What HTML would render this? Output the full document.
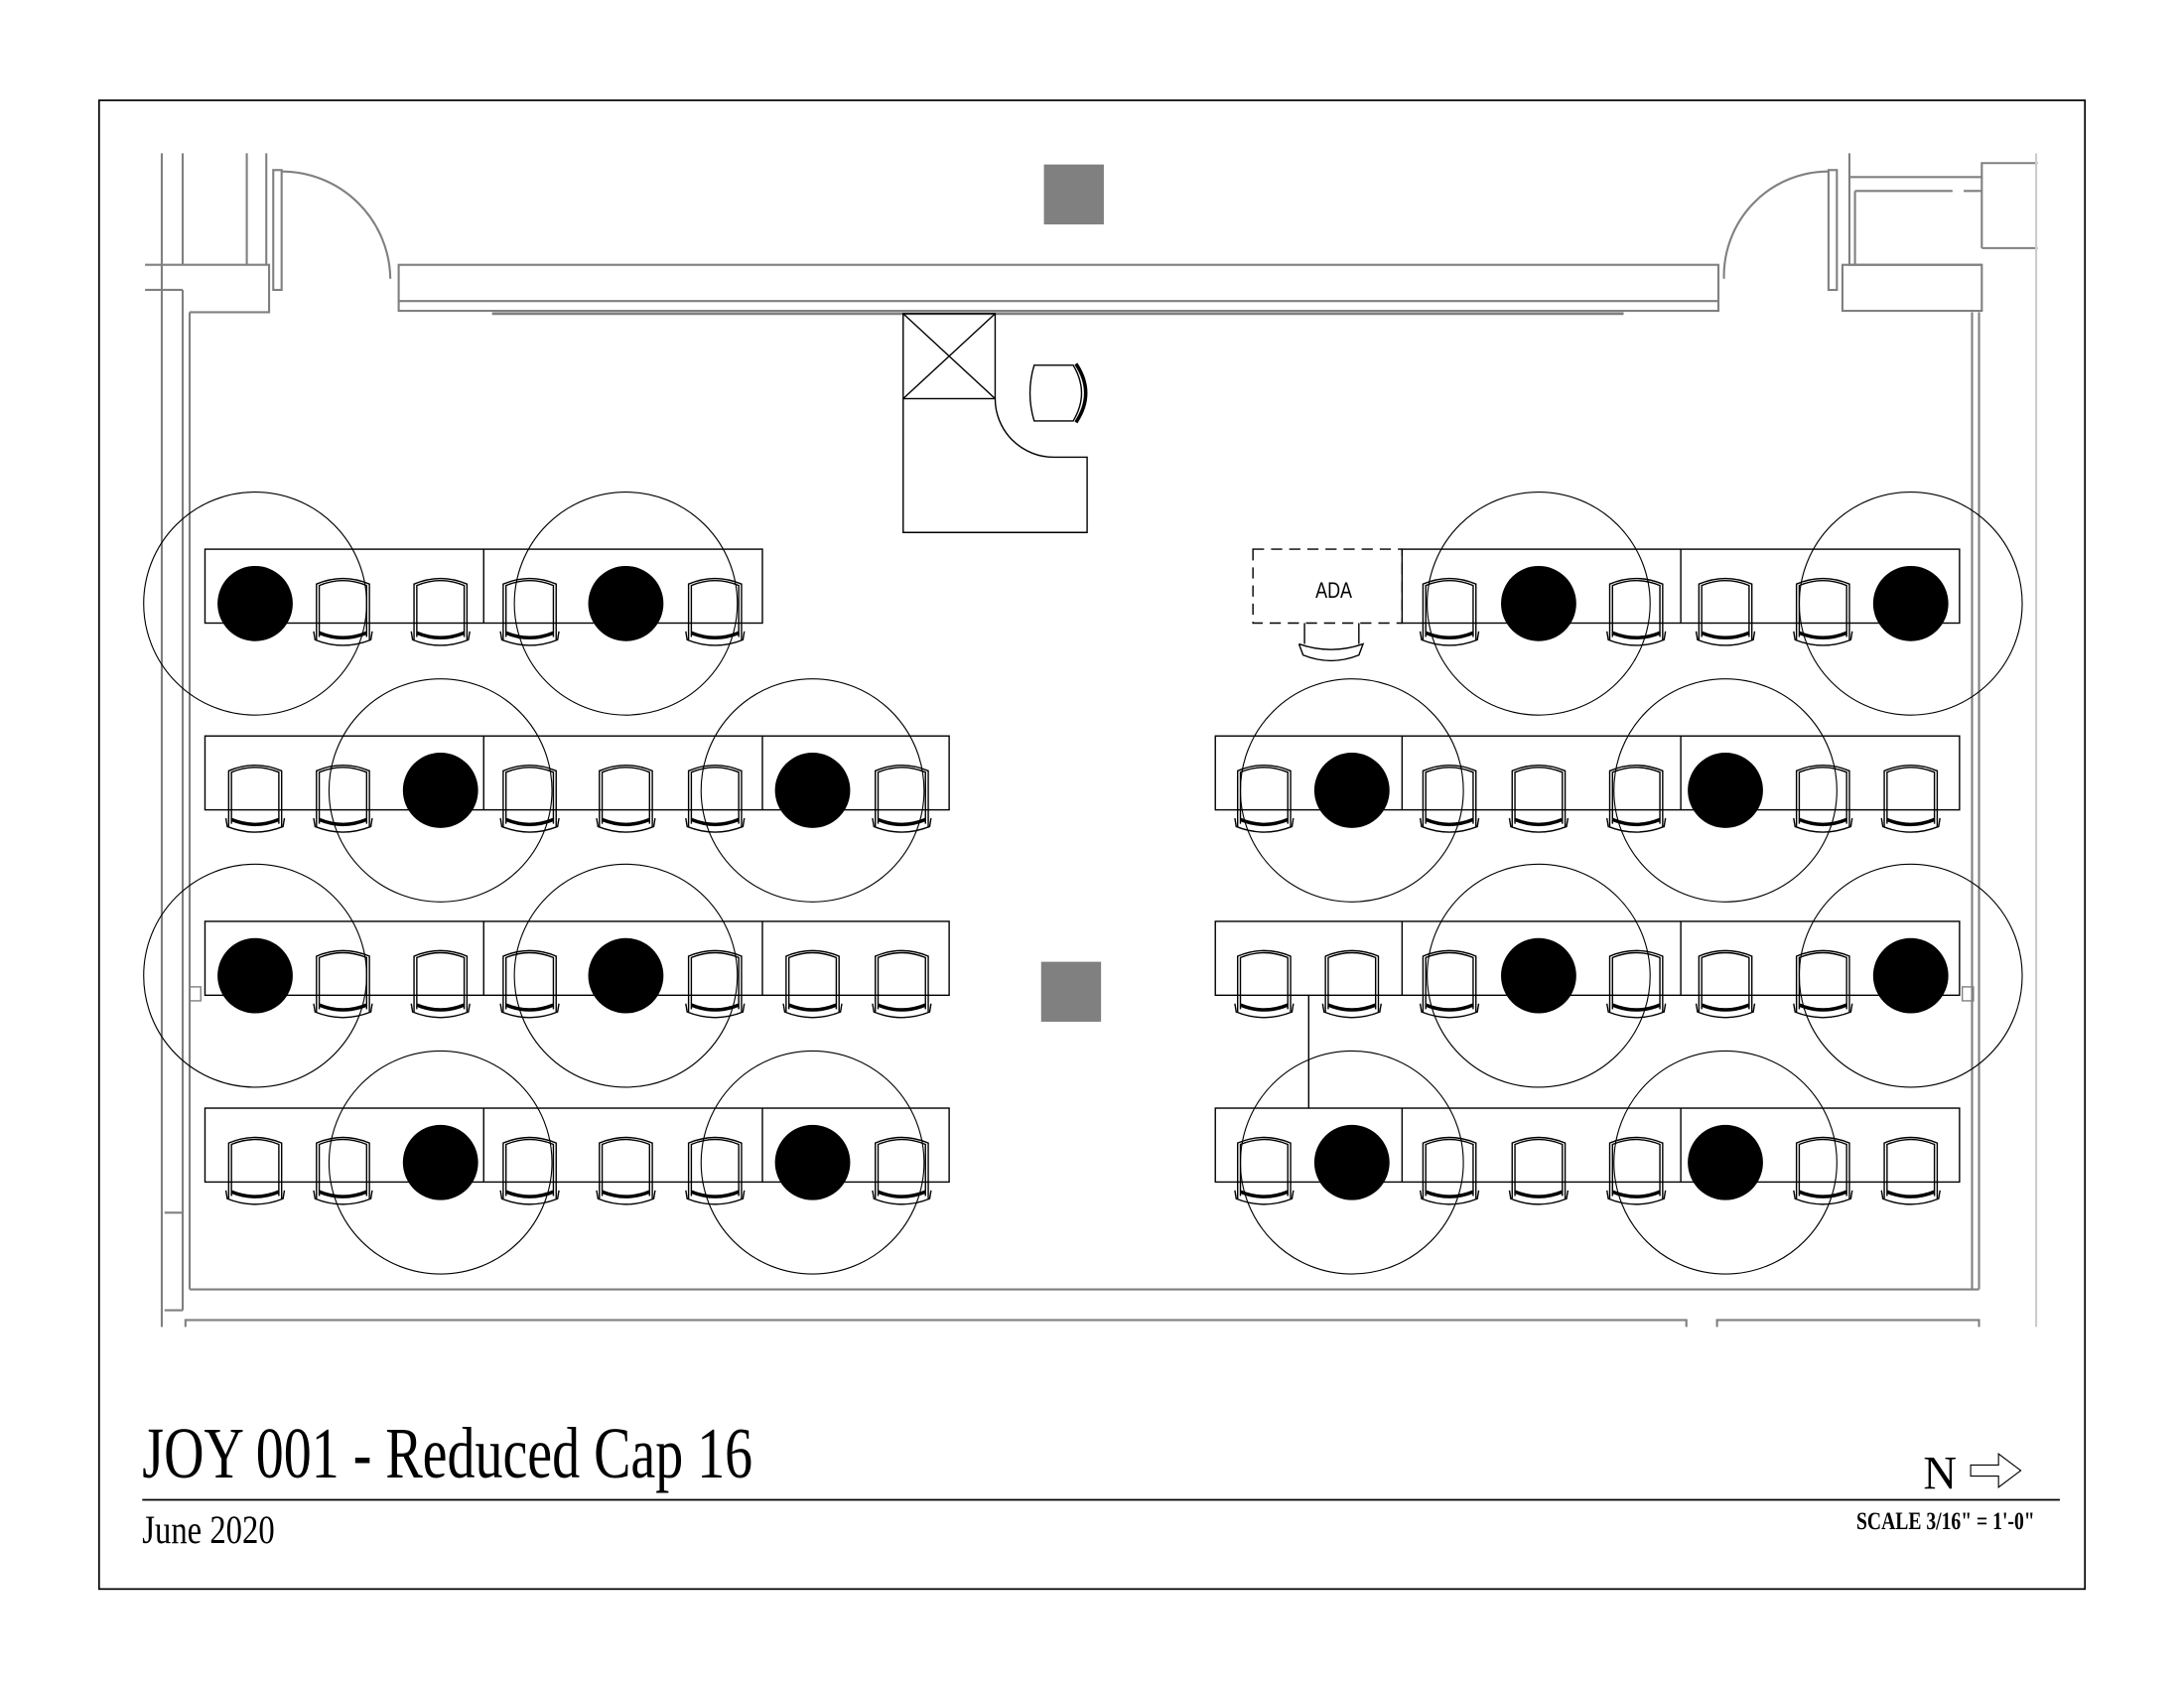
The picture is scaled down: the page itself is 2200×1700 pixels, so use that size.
<!DOCTYPE html>
<html><head><meta charset="utf-8"><style>html,body{margin:0;padding:0;background:#fff}svg{display:block}</style></head>
<body>
<svg xmlns="http://www.w3.org/2000/svg" width="2200" height="1700" viewBox="0 0 1567 1211">
<defs>
<g id="ch" fill="none" stroke="#000" stroke-width="1">
<path d="M-19,26 V-14 Q0,-22 19,-14 V26"/>
<path d="M-17,24 V-13 Q0,-20 17,-13 V24"/>
<path d="M-21,20 L-20,26 Q0,34 20,26 L21,20"/>
<path d="M-17,21 Q0,28 17,21" stroke-width="2.5"/>
</g>
<g id="dot"><circle r="80" fill="none" stroke="#000" stroke-width="0.8"/><circle r="27" fill="#000"/></g>
</defs>
<rect x="71" y="72" width="1425" height="1068" fill="none" stroke="#000" stroke-width="1.2"/>
<rect x="749" y="118" width="43" height="43" fill="#808080"/>
<rect x="747" y="690" width="43" height="43" fill="#808080"/>
<g fill="none" stroke="#808080" stroke-width="1.5">
<line x1="116" y1="110" x2="116" y2="952"/><line x1="131" y1="110" x2="131" y2="190"/>
<line x1="177" y1="110" x2="177" y2="190"/><line x1="191" y1="110" x2="191" y2="190"/>
<polyline points="104,190 193,190 193,224 136,224"/><line x1="104" y1="208" x2="131" y2="208"/>
<line x1="131" y1="208" x2="131" y2="940"/><line x1="136" y1="224" x2="136" y2="925"/>
<rect x="196" y="122" width="6" height="86"/>
<path d="M202,123 A78,78 0 0 1 280,200"/>
<rect x="286" y="190" width="947" height="33"/><line x1="286" y1="216" x2="1233" y2="216"/>
<line x1="353" y1="225" x2="1165" y2="225" stroke-width="2"/>
<path d="M1312,123 A75,75 0 0 0 1237,200"/>
<rect x="1312" y="122" width="6" height="86"/>
<polyline points="1327,110 1327,190 1422,190"/>
<rect x="1322" y="190" width="100" height="33"/>
<polyline points="1327,127 1422,127 1422,117 1462,117"/><line x1="1331" y1="137" x2="1422" y2="137" stroke-dasharray="70 8"/>
<line x1="1331" y1="137" x2="1331" y2="190"/><line x1="1422" y1="127" x2="1422" y2="178"/>
<line x1="1422" y1="178" x2="1462" y2="178"/>
<line x1="1415" y1="224" x2="1415" y2="925"/><line x1="1420" y1="224" x2="1420" y2="925"/>
<line x1="1461" y1="110" x2="1461" y2="952" stroke="#ccc"/>
<line x1="136" y1="925" x2="1420" y2="925"/>
<polyline points="133,952 133,947 1210,947 1210,952"/><polyline points="1232,952 1232,947 1420,947 1420,952"/>
<line x1="118" y1="870" x2="131" y2="870"/><line x1="118" y1="940" x2="131" y2="940"/>
</g>
<rect x="136" y="708" width="8" height="10" fill="none" stroke="#808080"/>
<rect x="1408" y="708" width="8" height="10" fill="none" stroke="#808080"/>
<g fill="none" stroke="#000" stroke-width="1">
<rect x="648" y="225" width="66" height="61"/><line x1="648" y1="225" x2="714" y2="286"/><line x1="714" y1="225" x2="648" y2="286"/>
<path d="M648,286 V382 H780 V328 H756 A42,42 0 0 1 714,286"/>
<path d="M742,262 H770 Q782,282 770,302 H742 Q736,282 742,262 Z"/>
<path d="M772,261 Q786,282 772,303" stroke-width="2.5"/>
<rect x="147" y="394" width="400" height="53"/><line x1="347" y1="394" x2="347" y2="447"/>
<rect x="147" y="528" width="534" height="53"/><line x1="347" y1="528" x2="347" y2="581"/><line x1="547" y1="528" x2="547" y2="581"/>
<rect x="147" y="661" width="534" height="53"/><line x1="347" y1="661" x2="347" y2="714"/><line x1="547" y1="661" x2="547" y2="714"/>
<rect x="147" y="795" width="534" height="53"/><line x1="347" y1="795" x2="347" y2="848"/><line x1="547" y1="795" x2="547" y2="848"/>
<rect x="899" y="394" width="107" height="53" stroke-dasharray="8 5"/>
<rect x="1006" y="394" width="400" height="53"/><line x1="1206" y1="394" x2="1206" y2="447"/>
<rect x="872" y="528" width="534" height="53"/><line x1="1006" y1="528" x2="1006" y2="581"/><line x1="1206" y1="528" x2="1206" y2="581"/>
<rect x="872" y="661" width="534" height="53"/><line x1="1006" y1="661" x2="1006" y2="714"/><line x1="1206" y1="661" x2="1206" y2="714"/>
<rect x="872" y="795" width="534" height="53"/><line x1="1006" y1="795" x2="1006" y2="848"/><line x1="1206" y1="795" x2="1206" y2="848"/>
<line x1="939" y1="714" x2="939" y2="795"/>
<path d="M936,447 V462 M975,447 V462 M932,462 L935,470 Q955,478 975,470 L978,462 Q955,470 932,462"/>
</g>
<text x="957" y="429" font-family="Liberation Sans, sans-serif" font-size="16" text-anchor="middle" transform="translate(957 0) scale(0.8 1) translate(-957 0)">ADA</text>
<g>
<use href="#ch" x="246" y="433"/><use href="#ch" x="316" y="433"/><use href="#ch" x="380" y="433"/><use href="#ch" x="513" y="433"/>
<use href="#ch" x="183" y="567"/><use href="#ch" x="246" y="567"/><use href="#ch" x="380" y="567"/><use href="#ch" x="449" y="567"/><use href="#ch" x="513" y="567"/><use href="#ch" x="647" y="567"/>
<use href="#ch" x="246" y="700"/><use href="#ch" x="316" y="700"/><use href="#ch" x="380" y="700"/><use href="#ch" x="513" y="700"/><use href="#ch" x="583" y="700"/><use href="#ch" x="647" y="700"/>
<use href="#ch" x="183" y="834"/><use href="#ch" x="246" y="834"/><use href="#ch" x="380" y="834"/><use href="#ch" x="449" y="834"/><use href="#ch" x="513" y="834"/><use href="#ch" x="647" y="834"/>
<use href="#dot" x="183" y="433"/><use href="#dot" x="449" y="433"/>
<use href="#dot" x="316" y="567"/><use href="#dot" x="583" y="567"/>
<use href="#dot" x="183" y="700"/><use href="#dot" x="449" y="700"/>
<use href="#dot" x="316" y="834"/><use href="#dot" x="583" y="834"/>
</g>
<g>
<use href="#ch" x="1040" y="433"/><use href="#ch" x="1174" y="433"/><use href="#ch" x="1238" y="433"/><use href="#ch" x="1308" y="433"/>
<use href="#ch" x="907" y="567"/><use href="#ch" x="1040" y="567"/><use href="#ch" x="1104" y="567"/><use href="#ch" x="1174" y="567"/><use href="#ch" x="1308" y="567"/><use href="#ch" x="1371" y="567"/>
<use href="#ch" x="907" y="700"/><use href="#ch" x="970" y="700"/><use href="#ch" x="1040" y="700"/><use href="#ch" x="1174" y="700"/><use href="#ch" x="1238" y="700"/><use href="#ch" x="1308" y="700"/>
<use href="#ch" x="907" y="834"/><use href="#ch" x="1040" y="834"/><use href="#ch" x="1104" y="834"/><use href="#ch" x="1174" y="834"/><use href="#ch" x="1308" y="834"/><use href="#ch" x="1371" y="834"/>
<use href="#dot" x="1104" y="433"/><use href="#dot" x="1371" y="433"/>
<use href="#dot" x="970" y="567"/><use href="#dot" x="1238" y="567"/>
<use href="#dot" x="1104" y="700"/><use href="#dot" x="1371" y="700"/>
<use href="#dot" x="970" y="834"/><use href="#dot" x="1238" y="834"/>
</g>
<text x="102" y="1060" font-family="Liberation Serif, serif" font-size="52" textLength="438" lengthAdjust="spacingAndGlyphs">JOY 001 - Reduced Cap 16</text>
<line x1="102" y1="1076" x2="1478" y2="1076" stroke="#000" stroke-width="1.3"/>
<text x="102" y="1107" font-family="Liberation Serif, serif" font-size="29" textLength="95" lengthAdjust="spacingAndGlyphs">June 2020</text>
<text x="1380" y="1068" font-family="Liberation Serif, serif" font-size="34" textLength="24" lengthAdjust="spacingAndGlyphs">N</text>
<path d="M1414,1051 H1434 V1043 L1450,1055 L1434,1067 V1059 H1414 Z" fill="none" stroke="#000" stroke-width="0.8"/>
<text x="1332" y="1097" font-family="Liberation Serif, serif" font-size="18" font-weight="bold" textLength="128" lengthAdjust="spacingAndGlyphs">SCALE 3/16" = 1'-0"</text>
</svg>
</body></html>
